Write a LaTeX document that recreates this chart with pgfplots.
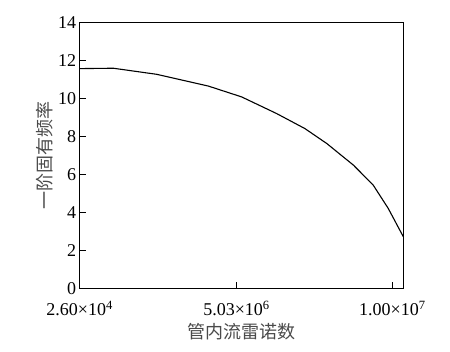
\documentclass[border=0pt]{standalone}
\usepackage{pgfplots}
\pgfplotsset{compat=1.18}
\usepackage{fontspec}
\setmainfont{Liberation Serif}
\newfontfamily\cjk{Noto Sans CJK SC}
\definecolor{lblgray}{HTML}{4A4A4A}
\begin{document}
\begin{tikzpicture}
\begin{axis}[
  scale only axis,
  width=323.6pt, height=265.6pt,
  xmin=0.026, xmax=10.35,
  ymin=0, ymax=14,
  ytick={0,2,...,14},
  xtick={0.026,5.03,10},
  xticklabels={2.60×10\textsuperscript{4},5.03×10\textsuperscript{6},1.00×10\textsuperscript{7}},
  /pgf/number format/assume math mode=true,
  tick align=inside,
  xtick pos=bottom, ytick pos=left,
  major tick length=6.5pt,
  tick style={black, line width=0.8pt},
  axis line style={black, line width=0.9pt},
  tick label style={font=\fontsize{18}{18}\selectfont, text=black},
  yticklabel style={xshift=0pt},
  xticklabel style={yshift=-9pt},
  xlabel={\cjk 管内流雷诺数},
  ylabel={\cjk 一阶固有频率},
  label style={font=\fontsize{18}{18}\selectfont, text=lblgray},
  xlabel style={yshift=-1pt},
  ylabel style={yshift=-2pt},
]
\addplot[black, line width=1.1pt] coordinates {
(0.026,11.58) (1.10,11.60) (2.48,11.28) (4.13,10.66) (5.19,10.09)
(6.31,9.21) (7.21,8.42) (7.91,7.63) (8.76,6.49) (9.39,5.44)
(9.87,4.21) (10.35,2.72)
};
\end{axis}
\useasboundingbox (-79.7pt,-62.7pt) rectangle (370.3pt,288.3pt);
\end{tikzpicture}
\end{document}
